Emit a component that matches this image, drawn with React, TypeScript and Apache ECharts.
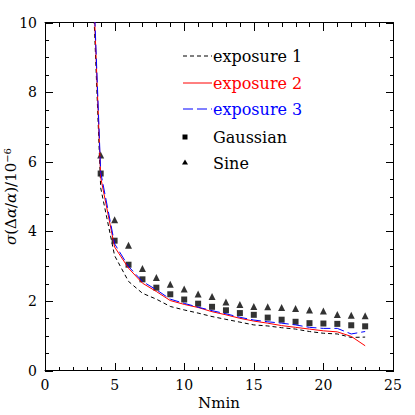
import React, { useEffect, useRef } from "react";
import * as echarts from "echarts";

const nminLines = [3, 4, 5, 6, 7, 8, 9, 10, 11, 12, 13, 14, 15, 16, 17, 18, 19, 20, 21, 22, 23];
const exposure1 = [15.5, 5.25, 3.3, 2.56, 2.22, 2.05, 1.84, 1.74, 1.65, 1.55, 1.47, 1.39, 1.31, 1.28, 1.23, 1.19, 1.12, 1.07, 1.05, 0.95, 0.96];
const exposure2 = [16, 5.55, 3.55, 2.94, 2.51, 2.27, 2.01, 1.9, 1.81, 1.69, 1.6, 1.5, 1.42, 1.36, 1.29, 1.24, 1.19, 1.14, 1.11, 0.98, 0.71];
const exposure3 = [16.2, 5.7, 3.64, 2.99, 2.56, 2.32, 2.05, 1.93, 1.82, 1.72, 1.63, 1.53, 1.45, 1.4, 1.36, 1.31, 1.24, 1.21, 1.21, 1.05, 1.12];

const nminPoints = [4, 5, 6, 7, 8, 9, 10, 11, 12, 13, 14, 15, 16, 17, 18, 19, 20, 21, 22, 23];
const gaussian = [5.66, 3.73, 3.04, 2.62, 2.38, 2.19, 2.04, 1.92, 1.83, 1.73, 1.65, 1.6, 1.52, 1.46, 1.4, 1.36, 1.35, 1.34, 1.3, 1.27];
const sine = [6.19, 4.33, 3.6, 2.93, 2.67, 2.48, 2.34, 2.2, 2.13, 1.97, 1.9, 1.84, 1.83, 1.81, 1.78, 1.74, 1.71, 1.61, 1.59, 1.57];

// axis tick positions (axis units)
const xMajorTicks = [0, 5, 10, 15, 20, 25];
const xMinorTicks = [1, 2, 3, 4, 6, 7, 8, 9, 11, 12, 13, 14, 16, 17, 18, 19, 21, 22, 23, 24];
const yMajorTicks = [0, 2, 4, 6, 8, 10];
const yMinorTicks = [0.5, 1, 1.5, 2.5, 3, 3.5, 4.5, 5, 5.5, 6.5, 7, 7.5, 8.5, 9, 9.5];

const X_MIN = 0;
const X_MAX = 25;
const Y_MIN = 0;
const Y_MAX = 10;

const FONT = "DejaVu Serif";
const MAJOR = 8;
const MINOR = 4;

const pair = (xs: number[], ys: number[]) => xs.map((x, i) => [x, ys[i]]);

function mainAxis(kind: "x" | "y", pos: string, labels: boolean) {
  const isY = kind === "y";
  return {
    type: "value",
    position: pos,
    min: isY ? Y_MIN : X_MIN,
    max: isY ? Y_MAX : X_MAX,
    interval: isY ? 2 : 5,
    name: labels ? (isY ? "{i|σ}(Δ{i|α}/{i|α})/10{s|−6}" : "Nmin") : "",
    nameLocation: "middle",
    nameGap: 25,
    nameMoveOverlap: false,
    nameRotate: isY ? 90 : 0,
    nameTextStyle: {
      fontFamily: FONT,
      fontSize: 15,
      color: "#000",
      rich: {
        i: { fontFamily: FONT, fontSize: 15, fontStyle: "italic", color: "#000" },
        s: { fontFamily: FONT, fontSize: 10, color: "#000", padding: [0, 0, 8, 0] },
      },
    },
    axisLine: { show: true, onZero: false, lineStyle: { color: "#000", width: 1 } },
    axisTick: { show: false },
    minorTick: { show: false },
    splitLine: { show: false },
    axisLabel: { show: labels, fontFamily: FONT, fontSize: 14, color: "#000", margin: isY ? 8 : 7 },
  };
}

// kind: 0 x major, 1 x minor, 2 y major, 3 y minor
const tickData = [
  ...xMajorTicks.map((v) => [v, 0]),
  ...xMinorTicks.map((v) => [v, 1]),
  ...yMajorTicks.map((v) => [v, 2]),
  ...yMinorTicks.map((v) => [v, 3]),
];

function renderTick(params: any, api: any) {
  const v = api.value(0);
  const kind = api.value(1);
  const len = kind === 0 || kind === 2 ? MAJOR : MINOR;
  const style = { fill: "#000", stroke: null, lineWidth: 0 };
  if (kind < 2) {
    const b = api.coord([v, Y_MIN]);
    const t = api.coord([v, Y_MAX]);
    const x = Math.round(b[0]);
    const yb = Math.round(b[1]);
    const yt = Math.round(t[1]);
    return {
      type: "group",
      children: [
        { type: "rect", shape: { x, y: yb - len, width: 1, height: len }, style },
        { type: "rect", shape: { x, y: yt, width: 1, height: len }, style },
      ],
    };
  }
  const l = api.coord([X_MIN, v]);
  const r = api.coord([X_MAX, v]);
  const y = Math.round(l[1]);
  const xl = Math.round(l[0]);
  const xr = Math.round(r[0]);
  return {
    type: "group",
    children: [
      { type: "rect", shape: { x: xl, y, width: len, height: 1 }, style },
      { type: "rect", shape: { x: xr - len + 1, y, width: len, height: 1 }, style },
    ],
  };
}

export default function App() {
  const ref = useRef<HTMLDivElement>(null);
  useEffect(() => {
    if (!ref.current) return;
    const chart = echarts.init(ref.current, null, { renderer: "svg" });
    const legendText = (y: number, text: string, color: string) => ({
      type: "text",
      x: 213,
      y,
      style: { text, fill: color, font: `16px "${FONT}"`, verticalAlign: "middle", align: "left" },
    });
    chart.setOption({
      animation: false,
      backgroundColor: "#fff",
      grid: { left: 45, right: 22, top: 22.5, bottom: 44.5, outerBoundsMode: "none", containLabel: false },
      xAxis: [mainAxis("x", "bottom", true), mainAxis("x", "top", false)],
      yAxis: [mainAxis("y", "left", true), mainAxis("y", "right", false)],
      series: [
        {
          name: "ticks",
          type: "custom",
          coordinateSystem: "cartesian2d",
          xAxisIndex: 0,
          yAxisIndex: 0,
          data: tickData,
          renderItem: renderTick,
          clip: false,
          silent: true,
          z: 10,
        },
        {
          name: "exposure 1",
          type: "line",
          data: pair(nminLines, exposure1),
          symbol: "none",
          clip: true,
          lineStyle: { color: "#000", width: 1, type: [4, 3] },
        },
        {
          name: "exposure 2",
          type: "line",
          data: pair(nminLines, exposure2),
          symbol: "none",
          clip: true,
          lineStyle: { color: "#ff0000", width: 1 },
        },
        {
          name: "exposure 3",
          type: "line",
          data: pair(nminLines, exposure3),
          symbol: "none",
          clip: true,
          lineStyle: { color: "#0000ff", width: 1, type: [10, 4] },
        },
        {
          name: "Gaussian",
          type: "scatter",
          data: pair(nminPoints, gaussian),
          symbol: "rect",
          symbolSize: 6,
          itemStyle: { color: "#000" },
        },
        {
          name: "Sine",
          type: "scatter",
          data: pair(nminPoints, sine),
          symbol: "triangle",
          symbolSize: 7,
          itemStyle: { color: "#000" },
        },
      ],
      graphic: [
        { type: "line", shape: { x1: 183, y1: 56, x2: 212, y2: 56 }, style: { stroke: "#000", lineWidth: 1, lineDash: [4, 3] } },
        legendText(56, "exposure 1", "#000"),
        { type: "line", shape: { x1: 183, y1: 83, x2: 212, y2: 83 }, style: { stroke: "#ff0000", lineWidth: 1 } },
        legendText(83, "exposure 2", "#ff0000"),
        { type: "line", shape: { x1: 183, y1: 109, x2: 212, y2: 109 }, style: { stroke: "#0000ff", lineWidth: 1, lineDash: [10, 4] } },
        legendText(109, "exposure 3", "#0000ff"),
        { type: "rect", shape: { x: 182.5, y: 134.5, width: 5, height: 5 }, style: { fill: "#000" } },
        legendText(137, "Gaussian", "#000"),
        { type: "polygon", shape: { points: [[185, 159.5], [182, 164.5], [188, 164.5]] }, style: { fill: "#000" } },
        legendText(163, "Sine", "#000"),
      ],
    });
    return () => chart.dispose();
  }, []);
  return <div ref={ref} style={{ position: "fixed", left: 0, top: 0, width: 415, height: 415 }} />;
}
